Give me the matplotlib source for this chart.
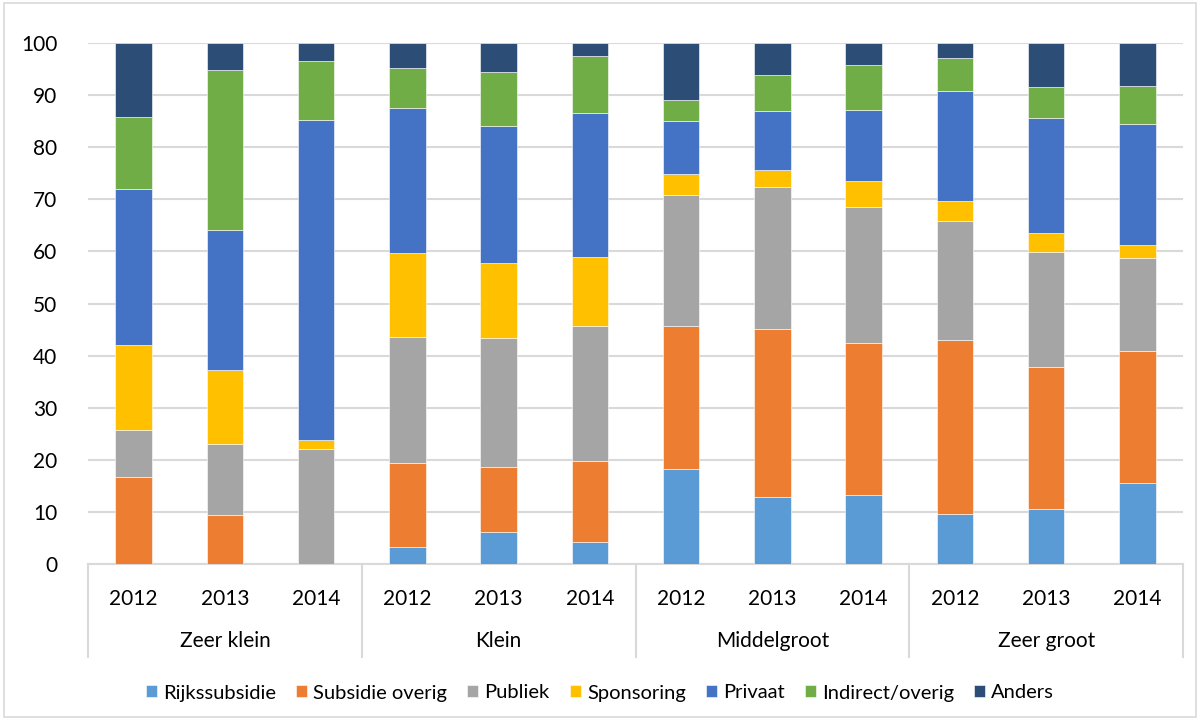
import numpy as np
import matplotlib.pyplot as plt
from matplotlib.transforms import blended_transform_factory
from matplotlib.patches import Rectangle

plt.rcParams['font.family'] = ['Lato', 'DejaVu Sans']

groups = ['Zeer klein', 'Klein', 'Middelgroot', 'Zeer groot']
years = ['2012', '2013', '2014']
series = ['Rijkssubsidie', 'Subsidie overig', 'Publiek', 'Sponsoring',
          'Privaat', 'Indirect/overig', 'Anders']
colors = ['#5B9BD5', '#ED7D31', '#A5A5A5', '#FFC000', '#4472C4', '#70AD47', '#2B4D76']

# percentages per bar (group x year)
rijkssubsidie = [0, 0, 0, 3.3, 6.1, 4.2, 18.2, 12.9, 13.3, 9.6, 10.6, 15.6]
subsidie_overig = [16.7, 9.4, 0, 16.1, 12.6, 15.6, 27.4, 32.2, 29.2, 33.4, 27.2, 25.3]
publiek = [9.0, 13.6, 22.0, 24.2, 24.6, 25.8, 25.2, 27.2, 26.1, 22.8, 22.0, 17.9]
sponsoring = [16.3, 14.2, 1.8, 16.0, 14.4, 13.4, 4.0, 3.3, 4.9, 3.9, 3.7, 2.4]
privaat = [30.0, 27.0, 61.4, 28.0, 26.3, 27.5, 10.2, 11.4, 13.7, 21.0, 22.2, 23.2]
indirect_overig = [13.8, 30.6, 11.3, 7.6, 10.4, 11.0, 4.0, 6.8, 8.6, 6.5, 5.9, 7.4]
anders = [14.2, 5.2, 3.5, 4.8, 5.6, 2.5, 11.0, 6.2, 4.2, 2.8, 8.4, 8.2]

data = [rijkssubsidie, subsidie_overig, publiek, sponsoring, privaat,
        indirect_overig, anders]

fig = plt.figure(figsize=(12, 7.2), dpi=100)
fig.patches.append(Rectangle((0.003, 0.004), 0.994, 0.992, transform=fig.transFigure,
                             fill=False, edgecolor='#D9D9D9', linewidth=1.2))
ax = fig.add_axes([88 / 1200, 1 - 564 / 720, 1095 / 1200, 521 / 720])

x = np.arange(len(groups) * len(years))
bottom = np.zeros(len(x))
for name, vals, col in zip(series, data, colors):
    ax.bar(x, vals, 0.4, bottom=bottom, color=col, label=name,
           edgecolor='white', linewidth=0.4, zorder=3)
    bottom += np.array(vals)

ax.set_xlim(-0.5, len(x) - 0.5)
ax.set_ylim(0, 100)
ax.set_yticks(range(0, 101, 10))
ax.yaxis.grid(True, color='#D9D9D9', linewidth=1.5, zorder=0)
for s in ['top', 'right', 'left']:
    ax.spines[s].set_visible(False)
ax.spines['bottom'].set_color('#D9D9D9')
ax.spines['bottom'].set_linewidth(1.5)
ax.tick_params(axis='y', length=0, labelsize=15, colors='#000000', pad=22)
ax.set_xticks(x)
ax.set_xticklabels(years * len(groups))
ax.tick_params(axis='x', length=0, labelsize=15, pad=18)

trans = blended_transform_factory(ax.transData, ax.transAxes)
depth = -93 / 521
for b in np.arange(-0.5, len(x), 3):
    ax.plot([b, b], [0, depth], transform=trans, color='#D9D9D9',
            linewidth=1.5, clip_on=False)
for i, g in enumerate(groups):
    ax.text(i * 3 + 1, -77 / 521, g, transform=trans, ha='center', va='center',
            fontsize=15)

fig.legend(loc='center', bbox_to_anchor=(0.5, 1 - 693 / 720), ncol=7,
           frameon=False, fontsize=14.5, handlelength=0.55, handleheight=0.55,
           handletextpad=0.3, columnspacing=1.0)

fig.savefig('out.png', dpi=100)
